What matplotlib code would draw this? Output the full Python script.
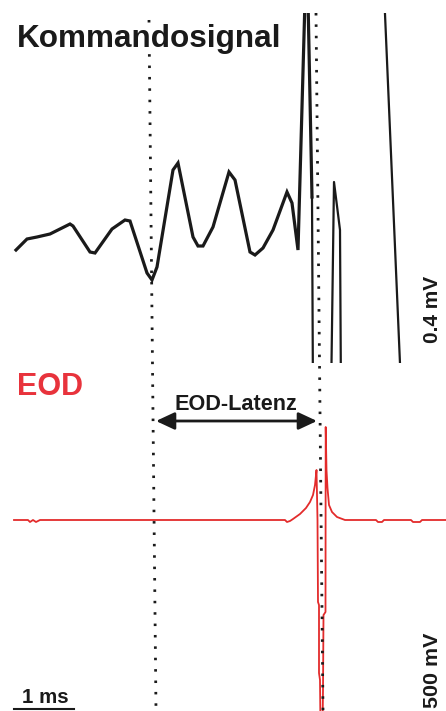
import numpy as np
import matplotlib.pyplot as plt
import matplotlib.patches as patches

plt.rcParams['font.family'] = ['Liberation Sans', 'DejaVu Sans']

# trace vertices (x: time, y: amplitude, both in image px)
cmd_x = [16, 27, 37, 50, 70, 73, 90, 95, 112, 125, 130, 147, 152, 157, 173, 178,
         193, 198, 203, 213, 229, 235, 250, 255, 263, 273, 287, 292, 298, 305, 308, 312]
cmd_y = [250, 239, 237, 234, 224, 226, 252, 253, 229, 220, 221, 273, 280, 267, 170, 163,
         237, 246, 246, 227, 172, 180, 252, 255, 248, 230, 192, 203, 250, 0, 0, 197]
# thinner tail of the command signal (pieces that run out of the frame)
tail_x = [312, 313, np.nan, 331, 334, 340, 341, np.nan, 384.4, 400.7]
tail_y = [197, 400, np.nan, 400, 182, 230, 400, np.nan, 0, 380]

eod_x = [14, 28, 30, 33, 36, 40, 285, 287, 290, 293, 300, 306, 310, 313, 315, 316.5,
         317.5, 318, 319, 319, 320, 320.5, 322.5, 323, 323.5, 325.5, 325.7,
         326.5, 327.5, 329, 332, 337,
         345, 376, 378, 382, 384, 411, 413, 420, 422, 446]
eod_y = [520, 520, 522, 520, 522, 520, 520, 522, 521, 519, 514, 508, 502, 495, 485, 470,
         520, 602, 605, 673, 680, 730, 730, 690, 615, 612, 427,
         470, 488, 505, 512, 517,
         520, 520, 522, 522, 520, 520, 522, 522, 520, 520]

dot1 = ([149, 156], [20, 711])
dot2 = ([316, 323], [13, 711])

black = '#1a1a1a'
red_line = '#e32b2b'
red_text = '#e8333c'

fig = plt.figure(figsize=(4.46, 7.11), dpi=100)
ax = fig.add_axes([0, 0, 1, 1])
ax.set_xlim(0, 446)
ax.set_ylim(711, 0)
ax.axis('off')

clip = patches.Rectangle((0, 13), 446, 350, transform=ax.transData)
l1, = ax.plot(cmd_x, cmd_y, color=black, lw=2.3, solid_joinstyle='miter', zorder=3)
l2, = ax.plot(tail_x, tail_y, color=black, lw=1.6, zorder=3)
l1.set_clip_path(clip)
l2.set_clip_path(clip)

ax.plot(eod_x, eod_y, color=red_line, lw=1.3, zorder=3)

for xs, ys in (dot1, dot2):
    ax.plot(xs, ys, color=black, lw=2.0, linestyle=(0, (0.9, 3.2)),
            dash_capstyle='butt', zorder=4)

ax.text(17, 47, 'Kommandosignal', fontsize=22.7, fontweight='bold', color=black,
        ha='left', va='baseline', zorder=5,
        bbox=dict(facecolor='white', edgecolor='none', pad=0))
ax.text(17, 395, 'EOD', fontsize=22, fontweight='bold', color=red_text,
        ha='left', va='baseline', zorder=5)
ax.text(174, 410, 'EOD-Latenz', fontsize=15.6, fontweight='bold', color=black,
        ha='left', va='baseline', zorder=5)
ax.annotate('', xy=(317, 421), xytext=(156, 421),
            arrowprops=dict(arrowstyle='<|-|>,head_length=0.75,head_width=0.35',
                            mutation_scale=15, lw=2, color=black,
                            shrinkA=0, shrinkB=0), zorder=5)

ax.plot([14, 74], [709, 709], color=black, lw=1.5)
ax.text(22, 703, '1 ms', fontsize=14.8, fontweight='bold', color=black,
        ha='left', va='baseline')
ax.text(432, 309, '0.4 mV', fontsize=15, fontweight='bold', color=black,
        rotation=90, ha='center', va='center')
ax.text(432.5, 670.5, '500 mV', fontsize=15.4, fontweight='bold', color=black,
        rotation=90, ha='center', va='center')

fig.savefig('out.png', dpi=100)
